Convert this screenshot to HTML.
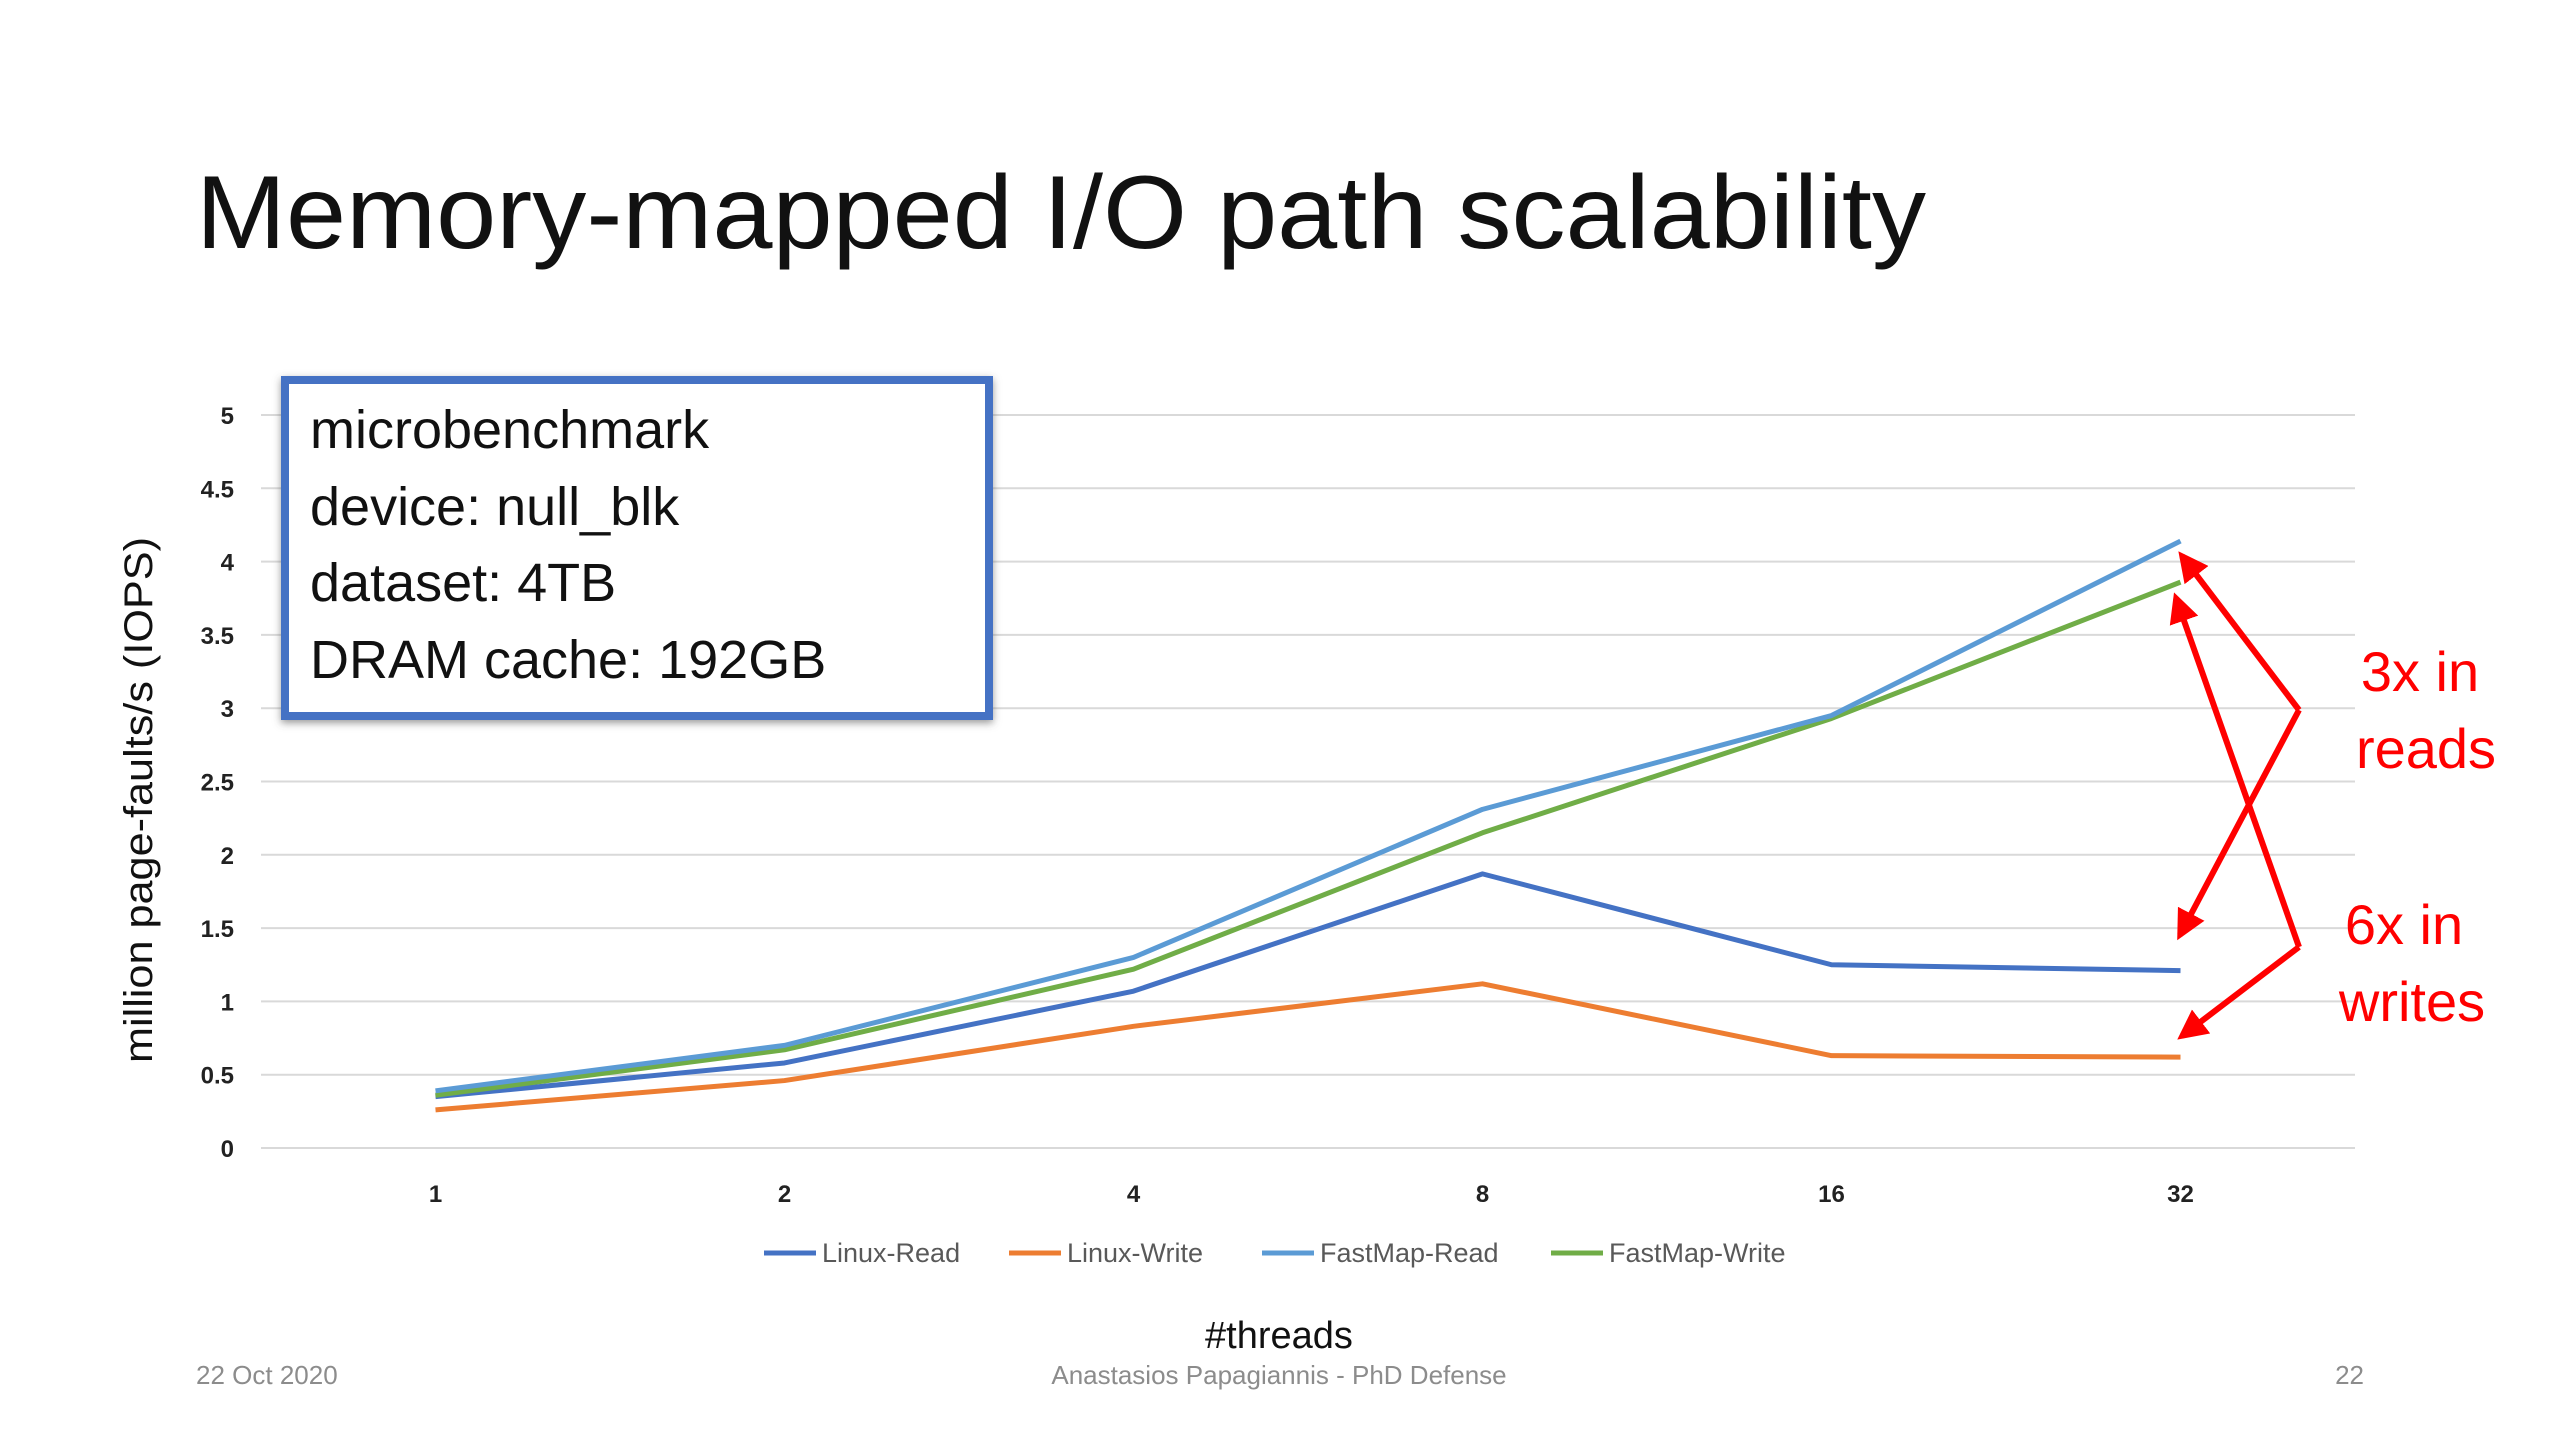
<!DOCTYPE html>
<html><head><meta charset="utf-8"><style>
html,body{margin:0;padding:0;background:#fff;}
svg{display:block;font-family:"Liberation Sans",sans-serif;}
</style></head><body>
<svg id="slide" width="2560" height="1440" viewBox="0 0 2560 1440">
<defs>
<marker id="ah" markerWidth="5" markerHeight="5" refX="4" refY="2.5" orient="auto" markerUnits="strokeWidth"><path d="M0,0 L5,2.5 L0,5 z" fill="#ff0000"/></marker>
<filter id="sh" x="-5%" y="-5%" width="110%" height="115%"><feDropShadow dx="0" dy="3" stdDeviation="4" flood-color="#555" flood-opacity="0.6"/></filter>
</defs>
<text x="196" y="248" font-size="104" fill="#111" textLength="1730" lengthAdjust="spacingAndGlyphs">Memory-mapped I/O path scalability</text>
<g id="grid"></g>
<g id="yticks"></g>
<g id="xticks"></g>
<g id="series"></g>
<text transform="translate(152,800) rotate(-90)" text-anchor="middle" font-size="40" fill="#111" textLength="526" lengthAdjust="spacingAndGlyphs">million page-faults/s (IOPS)</text>
<text x="1279" y="1348" text-anchor="middle" font-size="38" fill="#111">#threads</text>
<g id="legend"></g>
<g>
<rect x="285" y="380" width="704" height="336" fill="#fff" stroke="#4472C4" stroke-width="8" filter="url(#sh)"/>
<text x="310" y="448" font-size="54" fill="#111">microbenchmark</text>
<text x="310" y="525" font-size="54" fill="#111">device: null_blk</text>
<text x="310" y="601" font-size="54" fill="#111">dataset: 4TB</text>
<text x="310" y="678" font-size="54" fill="#111">DRAM cache: 192GB</text>
</g>
<g stroke="#ff0000" stroke-width="6" fill="none">
<line x1="2299" y1="710" x2="2182" y2="556" marker-end="url(#ah)"/>
<line x1="2299" y1="710" x2="2180" y2="935" marker-end="url(#ah)"/>
<line x1="2299" y1="947" x2="2176" y2="598" marker-end="url(#ah)"/>
<line x1="2299" y1="947" x2="2182" y2="1036" marker-end="url(#ah)"/>
</g>
<g fill="#ff0000" font-size="56" text-anchor="middle">
<text x="2420" y="691">3x in</text>
<text x="2426" y="768">reads</text>
<text x="2404" y="944">6x in</text>
<text x="2412" y="1021">writes</text>
</g>
<text x="196" y="1384" font-size="26" fill="#8c8c8c">22 Oct 2020</text>
<text x="1279" y="1384" font-size="26" fill="#8c8c8c" text-anchor="middle">Anastasios Papagiannis - PhD Defense</text>
<text x="2364" y="1384" font-size="26" fill="#8c8c8c" text-anchor="end">22</text>
</svg>
<script>
const categories = ["1","2","4","8","16","32"];
const linuxRead = [0.35,0.58,1.07,1.87,1.25,1.21];
const linuxWrite = [0.26,0.46,0.83,1.12,0.63,0.62];
const fastmapRead = [0.39,0.70,1.30,2.31,2.95,4.14];
const fastmapWrite = [0.36,0.67,1.22,2.15,2.93,3.86];
const yTicks = [0,0.5,1,1.5,2,2.5,3,3.5,4,4.5,5];
const seriesNames = ["Linux-Read","Linux-Write","FastMap-Read","FastMap-Write"];

const NS="http://www.w3.org/2000/svg";
const X0=261,X1=2355,Y0=1148,Y1=415,YMAX=5;
const band=(X1-X0)/categories.length;
function xs(i){return X0+band*(i+0.5);}
function ys(v){return Y0-(v/YMAX)*(Y0-Y1);}
function mk(t,a,p){const e=document.createElementNS(NS,t);for(const k in a)e.setAttribute(k,a[k]);p.appendChild(e);return e;}
const grid=document.getElementById('grid'),yt=document.getElementById('yticks'),xt=document.getElementById('xticks');
yTicks.forEach(v=>{
  const l=mk('line',{x1:X0,x2:X1,y1:ys(v),y2:ys(v),stroke:'#d9d9d9','stroke-width':2},grid);
  
  
  const t=mk('text',{x:234,y:ys(v)+9,'text-anchor':'end','font-size':24,'font-weight':'bold',fill:'#222'},yt);
  t.textContent=String(v);
  
  
});
categories.forEach((c,i)=>{
  const t=mk('text',{x:xs(i),y:1202,'text-anchor':'middle','font-size':24,'font-weight':'bold',fill:'#222'},xt);
  t.textContent=c;
  
  
});
const colors=["#4472C4","#ED7D31","#5B9BD5","#70AD47"];
const data=[linuxRead,linuxWrite,fastmapRead,fastmapWrite];
const sg=document.getElementById('series');
[1,0,3,2].forEach(k=>{
  const pts=data[k].map((v,i)=>xs(i)+','+ys(v)).join(' ');
  const p=mk('polyline',{points:pts,fill:'none',stroke:colors[k],'stroke-width':5,'stroke-linejoin':'round'},sg);
  
  
});
const lg=document.getElementById('legend');
const lx=[764,1009,1262,1551];
seriesNames.forEach((n,k)=>{
  const l=mk('line',{x1:lx[k],x2:lx[k]+52,y1:1253,y2:1253,stroke:colors[k],'stroke-width':5},lg);
  
  
  const t=mk('text',{x:lx[k]+58,y:1262,'font-size':27,fill:'#595959'},lg);
  t.textContent=n;
  
  
});
</script>
</body></html>
